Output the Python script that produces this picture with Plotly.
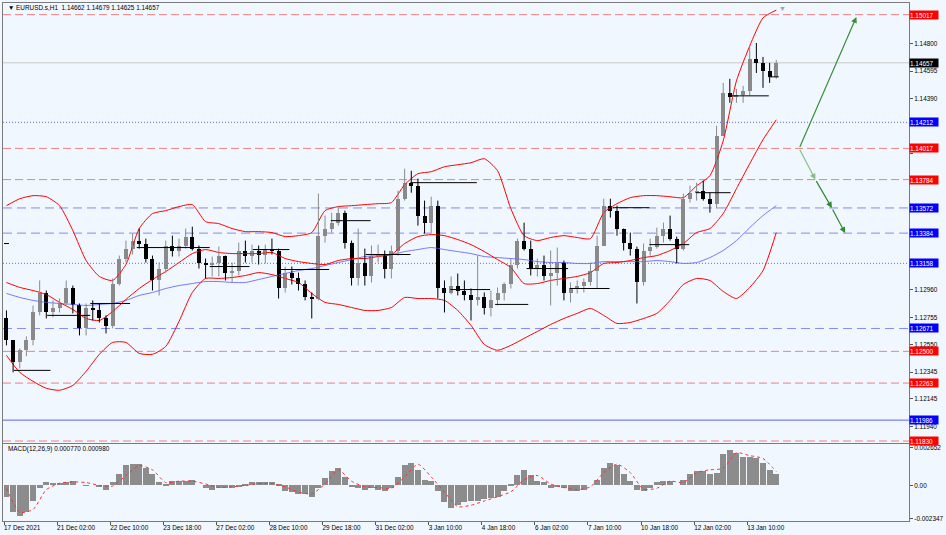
import plotly.graph_objects as go

# ---------------- data (hourly bars aggregated to 4-bar candles) ----------------
first_open = 1.12746
candle_high = [
    1.12806, 1.12582, 1.12522, 1.12612, 1.12843, 1.13030, 1.12955, 1.12881, 1.12895, 1.13030,
    1.12992, 1.12858, 1.12858, 1.12881, 1.12858, 1.12769, 1.13045, 1.13216, 1.13328, 1.13380,
    1.13418, 1.13343, 1.13216, 1.13164, 1.13328, 1.13365, 1.13343, 1.13418, 1.13432, 1.13291,
    1.13194, 1.13209, 1.13283, 1.13216, 1.13164, 1.13313, 1.13328, 1.13298, 1.13291, 1.13298,
    1.13343, 1.13268, 1.13134, 1.13134, 1.13089, 1.13030, 1.12940, 1.13679, 1.13515, 1.13537,
    1.13589, 1.13552, 1.13328, 1.13418, 1.13268, 1.13291, 1.13298, 1.13254, 1.13291, 1.13701,
    1.13865, 1.13850, 1.13791, 1.13627, 1.13656, 1.13627, 1.13030, 1.13060, 1.13082, 1.13030,
    1.12970, 1.13216, 1.12940, 1.12955, 1.12977, 1.13015, 1.13194, 1.13343, 1.13462, 1.13328,
    1.13194, 1.13216, 1.13254, 1.13276, 1.13179, 1.13015, 1.13030, 1.13045, 1.13164, 1.13365,
    1.13641, 1.13641, 1.13589, 1.13418, 1.13388, 1.13283, 1.13306, 1.13343, 1.13425, 1.13462,
    1.13515, 1.13358, 1.13679, 1.13738, 1.13761, 1.13776, 1.13686, 1.14186, 1.14507, 1.14537,
    1.14462, 1.14484, 1.14790, 1.14805, 1.14701, 1.14656, 1.14679]
candle_low = [
    1.12545, 1.12343, 1.12373, 1.12463, 1.12545, 1.12769, 1.12746, 1.12754, 1.12791, 1.12843,
    1.12784, 1.12619, 1.12619, 1.12731, 1.12716, 1.12634, 1.12672, 1.12992, 1.13164, 1.13224,
    1.13268, 1.13164, 1.12955, 1.12918, 1.13089, 1.13209, 1.13209, 1.13268, 1.13254, 1.13119,
    1.13045, 1.13060, 1.13060, 1.13030, 1.13015, 1.13067, 1.13164, 1.13164, 1.13149, 1.13157,
    1.13224, 1.12895, 1.12940, 1.13000, 1.12955, 1.12881, 1.12746, 1.12881, 1.13313, 1.13388,
    1.13440, 1.13268, 1.12992, 1.12992, 1.12992, 1.13015, 1.13164, 1.13045, 1.13045, 1.13216,
    1.13627, 1.13686, 1.13440, 1.13380, 1.13388, 1.12895, 1.12791, 1.12925, 1.12918, 1.12881,
    1.12731, 1.12843, 1.12776, 1.12761, 1.12843, 1.12881, 1.12970, 1.13119, 1.13254, 1.13067,
    1.13060, 1.13030, 1.12843, 1.12992, 1.12881, 1.12866, 1.12933, 1.12940, 1.12992, 1.12970,
    1.13291, 1.13500, 1.13365, 1.13254, 1.13216, 1.12858, 1.12992, 1.13216, 1.13268, 1.13313,
    1.13328, 1.13157, 1.13254, 1.13612, 1.13627, 1.13627, 1.13537, 1.13567, 1.14111, 1.14358,
    1.14358, 1.14358, 1.14410, 1.14581, 1.14470, 1.14507, 1.14537]
candle_close = [
    1.12582, 1.12418, 1.12508, 1.12582, 1.12791, 1.12940, 1.12791, 1.12821, 1.12858, 1.12970,
    1.12843, 1.12672, 1.12821, 1.12806, 1.12746, 1.12687, 1.13007, 1.13194, 1.13268, 1.13328,
    1.13306, 1.13194, 1.13030, 1.13119, 1.13291, 1.13254, 1.13291, 1.13358, 1.13268, 1.13164,
    1.13142, 1.13164, 1.13216, 1.13089, 1.13104, 1.13254, 1.13216, 1.13254, 1.13224, 1.13268,
    1.13254, 1.12970, 1.13089, 1.13045, 1.13000, 1.12910, 1.12895, 1.13365, 1.13418, 1.13462,
    1.13537, 1.13313, 1.13045, 1.13164, 1.13067, 1.13216, 1.13224, 1.13119, 1.13254, 1.13641,
    1.13761, 1.13738, 1.13515, 1.13462, 1.13589, 1.12970, 1.12940, 1.12992, 1.12955, 1.12925,
    1.12881, 1.12910, 1.12821, 1.12881, 1.12933, 1.13000, 1.13149, 1.13328, 1.13268, 1.13119,
    1.13149, 1.13067, 1.13089, 1.13164, 1.12940, 1.12970, 1.12985, 1.13015, 1.13104, 1.13291,
    1.13589, 1.13552, 1.13418, 1.13313, 1.13268, 1.13015, 1.13254, 1.13283, 1.13365, 1.13418,
    1.13343, 1.13268, 1.13641, 1.13686, 1.13701, 1.13641, 1.13604, 1.14111, 1.14432, 1.14402,
    1.14417, 1.14447, 1.14686, 1.14656, 1.14596, 1.14552, 1.14657]

# Bollinger bands and moving average, sampled every 8 hourly bars
band_upper = [
    1.13589, 1.13641, 1.13664, 1.13656, 1.13589, 1.13403, 1.13179, 1.13060, 1.13030, 1.13149,
    1.13418, 1.13530, 1.13552, 1.13582, 1.13597, 1.13470, 1.13455, 1.13418, 1.13395, 1.13395,
    1.13388, 1.13358, 1.13365, 1.13388, 1.13552, 1.13582, 1.13589, 1.13597, 1.13604, 1.13612,
    1.13746, 1.13828, 1.13843, 1.13880, 1.13895, 1.13910, 1.13940, 1.13850, 1.13567, 1.13365,
    1.13328, 1.13351, 1.13365, 1.13351, 1.13343, 1.13537, 1.13604, 1.13649, 1.13664, 1.13664,
    1.13656, 1.13649, 1.13738, 1.13813, 1.14074, 1.14522, 1.14783, 1.14992, 1.15051]
band_middle = [
    1.13015, 1.12978, 1.12955, 1.12925, 1.12866, 1.12813, 1.12746, 1.12731, 1.12798, 1.12888,
    1.12970, 1.13037, 1.13097, 1.13164, 1.13231, 1.13261, 1.13239, 1.13231, 1.13231, 1.13231,
    1.13239, 1.13194, 1.13171, 1.13157, 1.13149, 1.13179, 1.13194, 1.13194, 1.13209, 1.13224,
    1.13306, 1.13358, 1.13373, 1.13365, 1.13336, 1.13298, 1.13246, 1.13186, 1.13127, 1.13007,
    1.13007, 1.13030, 1.13045, 1.13060, 1.13089, 1.13157, 1.13164, 1.13179, 1.13201, 1.13216,
    1.13254, 1.13306, 1.13388, 1.13418, 1.13530, 1.13716, 1.13903, 1.14082, 1.14231]
band_lower = [
    1.12470, 1.12343, 1.12276, 1.12224, 1.12209, 1.12246, 1.12351, 1.12478, 1.12567, 1.12567,
    1.12485, 1.12478, 1.12537, 1.12724, 1.12940, 1.13045, 1.13045, 1.13052, 1.13067, 1.13089,
    1.13074, 1.13045, 1.13015, 1.12933, 1.12866, 1.12851, 1.12828, 1.12806, 1.12806, 1.12828,
    1.12903, 1.12895, 1.12895, 1.12881, 1.12806, 1.12694, 1.12552, 1.12508, 1.12545, 1.12597,
    1.12649, 1.12701, 1.12746, 1.12784, 1.12821, 1.12769, 1.12709, 1.12716, 1.12746, 1.12784,
    1.12881, 1.13000, 1.13045, 1.13030, 1.12948, 1.12895, 1.12978, 1.13104, 1.13388]
ma_blue = [
    1.12933, 1.12903, 1.12881, 1.12866, 1.12858, 1.12851, 1.12843, 1.12851, 1.12858, 1.12881,
    1.12918, 1.12940, 1.12970, 1.12992, 1.13007, 1.13022, 1.13022, 1.13015, 1.13015, 1.13037,
    1.13060, 1.13082, 1.13104, 1.13119, 1.13142, 1.13164, 1.13186, 1.13209, 1.13216, 1.13224,
    1.13246, 1.13261, 1.13276, 1.13261, 1.13246, 1.13231, 1.13209, 1.13201, 1.13194, 1.13186,
    1.13171, 1.13164, 1.13164, 1.13157, 1.13157, 1.13171, 1.13171, 1.13171, 1.13171, 1.13179,
    1.13171, 1.13157, 1.13164, 1.13201, 1.13254, 1.13328, 1.13425, 1.13515, 1.13589]

# MACD(12,26,9)
macd_hist = [
    -0.0008, -0.0019, -0.0022, -0.0019, -0.0011, -0.0002, 0.0002, 0.00015, 0.00015, 0.0002,
    0.00033, 0.0, -0.00005, 0.0, -0.0001, -0.0003, 0.0002, 0.0008, 0.0014, 0.00153,
    0.0015, 0.0012, 0.0008, 0.0002, 0.0001, 0.00033, 0.0003, 0.0003, 0.0004, 0.0,
    -0.0002, -0.0003, -0.0002, -0.0002, -0.0002, -0.0001, 0.0001, 0.0002, 0.0002, 0.0002,
    0.0002, 0.0001, -0.0004, -0.0005, -0.0006, -0.0006, -0.0008, -0.0002, 0.0005, 0.001,
    0.0012, 0.0006, -0.0001, -0.0002, -0.0003, -0.0002, -0.0003, -0.0004, -0.0002, 0.0006,
    0.0014, 0.0016, 0.0011, 0.0004, 0.0003, -0.0004, -0.0012, -0.0016, -0.0014, -0.0012,
    -0.0011, -0.0011, -0.001, -0.0009, -0.0008, -0.0004, 0.0001, 0.0007, 0.0011, 0.0007,
    0.0003, 0.0002, -0.0002, -0.0001, -0.0002, -0.0004, -0.0004, -0.0003, 0.0, 0.0004,
    0.0012, 0.0016, 0.0014, 0.0008, 0.0003, -0.0003, -0.0004, -0.0002, 0.0002, 0.0003,
    0.0003, 0.0, 0.0004, 0.0008, 0.001, 0.001, 0.0008, 0.0009, 0.0022, 0.0025,
    0.0023, 0.002, 0.002, 0.0019, 0.0016, 0.0011, 0.00077]
macd_signal = [
    -0.0002, -0.0019, -0.0017, -0.0003, 0.00015, 0.00025, 0.0002, 0.0, -0.00005, 0.0007,
    0.0014, 0.0011, 0.0002, 0.0003, 0.0003, 0.0001, -0.00015, -0.0001, 0.0, 0.00013,
    0.00013, -0.0001, -0.00047, -0.0006, 0.0001, 0.0011, 0.0003, -0.0001, -0.00015, -0.0002,
    0.0006, 0.0015, 0.0006, -0.00047, -0.0015, -0.0014, -0.0011, -0.0008, -0.00045, 0.0004,
    0.0007, 0.0001, -0.00015, -0.0003, -0.0001, 0.0009, 0.0015, 0.0009, -0.00027, -0.0002,
    0.0003, 0.0002, 0.0009, 0.0011, 0.0012, 0.0023, 0.0021, 0.0019, 0.00098]

# daily reference segments (hourly bar index start/end, price)
seg_start = [0, 6, 26, 52, 80, 124, 150, 166, 197, 218, 245, 269, 296, 315, 341, 367, 389, 417, 438, 461]
seg_end = [3, 28, 52, 76, 124, 148, 172, 196, 221, 245, 285, 293, 316, 340, 365, 389, 413, 438, 461, 467]
seg_price = [1.13306, 1.12358, 1.12769, 1.12858, 1.13276, 1.13134, 1.13261, 1.13112, 1.13477, 1.13224,
             1.13761, 1.12962, 1.12851, 1.13119, 1.12970, 1.13574, 1.13298, 1.13686, 1.14410, 1.14552]

# horizontal levels
level_prices = [1.15017, 1.14657, 1.14212, 1.14017, 1.13784, 1.13572, 1.13384, 1.13158,
                1.12671, 1.12500, 1.12263, 1.11986, 1.11830]
level_types = ["R", "P", "D", "R", "R", "B", "B", "D", "B", "R", "R", "S", "R"]

# drawn arrows (bar index, price)
arrow_up_bar = [479.3, 513.8]
arrow_up_price = [1.14017, 1.15000]
arrow_down_bar = [479.3, 489.1, 499.0, 507.0]
arrow_down_price = [1.14017, 1.13784, 1.13572, 1.13384]

y_ticks = [1.14800, 1.14595, 1.14390, 1.14185, 1.13980, 1.13775, 1.13570, 1.13365,
           1.13160, 1.12960, 1.12755, 1.12550, 1.12345, 1.12145, 1.11940]
y_ticks_covered = [1.14185, 1.13980, 1.13775, 1.13570, 1.13365, 1.13160]
x_tick_labels = ["17 Dec 2021", "21 Dec 02:00", "22 Dec 10:00", "23 Dec 18:00", "27 Dec 02:00",
                 "28 Dec 10:00", "29 Dec 18:00", "31 Dec 02:00", "3 Jan 10:00", "4 Jan 18:00",
                 "6 Jan 02:00", "7 Jan 10:00", "10 Jan 18:00", "12 Jan 02:00", "13 Jan 10:00"]
x_tick_bars = [32 * i for i in range(len(x_tick_labels))]
macd_ticks = [0.002652, 0.0, -0.002347]
macd_tick_text = ["0.002652", "0.00", "-0.002347"]
header = "EURUSD.s,H1\u00a0\u00a01.14662 1.14679 1.14625 1.14657"
macd_header = "MACD(12,26,9) 0.000770 0.000980"

# ---------------- styles ----------------
BG = "#F0F7FE"
FONT = "Liberation Sans"
FS = 6.4
AXIS_LINE = "#7A7A7A"
level_style = {
    "R": dict(color="rgba(240,90,90,0.75)", dash="8px,4px", width=1, label="#FF0000"),
    "B": dict(color="rgba(90,90,245,0.7)", dash="9px,5px", width=1, label="#0000FF"),
    "D": dict(color="rgba(70,70,230,0.8)", dash="1px,2px", width=1, label="#0000FF"),
    "S": dict(color="rgba(60,60,240,0.8)", dash="solid", width=1, label="#0000FF"),
    "P": dict(color="#C8C8C8", dash="solid", width=1, label="#000000"),
}

n = len(candle_close)
cx = [4 * k + 1.5 for k in range(n)]
opens = [first_open] + candle_close[:-1]
band_x = [8 * j + 1.5 for j in range(len(band_upper))]

fig = go.Figure()

shapes = []
for p, t in zip(level_prices, level_types):
    st = level_style[t]
    shapes.append(dict(type="line", xref="paper", x0=0, x1=1, yref="y", y0=p, y1=p,
                       line=dict(color=st["color"], width=st["width"], dash=st["dash"]),
                       layer="below"))

# Bollinger + MA
fig.add_trace(go.Scatter(x=band_x, y=ma_blue, mode="lines",
                         line=dict(color="#6A6AFF", width=0.9, shape="spline", smoothing=0.6),
                         hoverinfo="skip"))
for band in (band_upper, band_middle, band_lower):
    fig.add_trace(go.Scatter(x=band_x, y=band, mode="lines",
                             line=dict(color="#FF0000", width=1, shape="spline", smoothing=0.6),
                             hoverinfo="skip"))

# candle wicks
for is_up, color in ((True, "#8A8A8A"), (False, "#000000")):
    wx, wy = [], []
    for x, o, h, l, c in zip(cx, opens, candle_high, candle_low, candle_close):
        if (c >= o) == is_up:
            wx += [x, x, None]
            wy += [l, h, None]
    fig.add_trace(go.Scatter(x=wx, y=wy, mode="lines", line=dict(color=color, width=1),
                             hoverinfo="skip"))

# candle bodies
body_base = [min(o, c) for o, c in zip(opens, candle_close)]
body_h = [max(abs(c - o), 0.00003) for o, c in zip(opens, candle_close)]
body_col = ["#8A8A8A" if c >= o else "#000000" for o, c in zip(opens, candle_close)]
fig.add_trace(go.Bar(x=cx, y=body_h, base=body_base, width=2.4,
                     marker=dict(color=body_col, line=dict(width=0)), hoverinfo="skip"))

# daily reference segments
sx, sy = [], []
for a, b, p in zip(seg_start, seg_end, seg_price):
    sx += [a, b, None]
    sy += [p, p, None]
fig.add_trace(go.Scatter(x=sx, y=sy, mode="lines", line=dict(color="#000000", width=1),
                         hoverinfo="skip"))

# MACD
fig.add_trace(go.Bar(x=cx, y=macd_hist, width=3.6, xaxis="x2", yaxis="y2",
                     marker=dict(color="#8C8C8C", line=dict(width=0)), hoverinfo="skip"))
fig.add_trace(go.Scatter(x=band_x, y=macd_signal, mode="lines", xaxis="x2", yaxis="y2",
                         line=dict(color="#FF3030", width=1, dash="dot", shape="spline", smoothing=0.6),
                         hoverinfo="skip"))

annotations = []
for p, t in zip(level_prices, level_types):
    annotations.append(dict(xref="paper", x=1.0, xanchor="left", yref="y", y=p, yanchor="middle",
                            text=f"{p:.5f}", showarrow=False, bgcolor=level_style[t]["label"],
                            font=dict(family=FONT, size=FS, color="white"),
                            width=28, height=8, align="left", borderpad=0))
annotations.append(dict(xref="x", yref="y", axref="x", ayref="y",
                        x=arrow_up_bar[1], y=arrow_up_price[1],
                        ax=arrow_up_bar[0], ay=arrow_up_price[0], text="",
                        showarrow=True, arrowhead=2, arrowsize=1, arrowwidth=1.2,
                        arrowcolor="#3A8F3A"))
for i in range(len(arrow_down_bar) - 1):
    annotations.append(dict(xref="x", yref="y", axref="x", ayref="y",
                            x=arrow_down_bar[i + 1], y=arrow_down_price[i + 1],
                            ax=arrow_down_bar[i], ay=arrow_down_price[i], text="",
                            showarrow=True, arrowhead=2, arrowsize=1, arrowwidth=1.2,
                            arrowcolor="#86C086" if i == 0 else "#2F8A2F"))
annotations.append(dict(xref="paper", yref="paper", x=0.003, y=0.9915, xanchor="left",
                        yanchor="middle", text="\u25BC " + header, showarrow=False,
                        font=dict(family=FONT, size=FS, color="#000000")))
annotations.append(dict(xref="paper", yref="paper", x=0.003, y=0.139, xanchor="left",
                        yanchor="middle", text=macd_header, showarrow=False,
                        font=dict(family=FONT, size=FS, color="#000000")))
annotations.append(dict(xref="x", yref="paper", x=469, y=1.0, xanchor="center", yanchor="top",
                        text="\u25BC", showarrow=False,
                        font=dict(family=FONT, size=7, color="#A0A0A0")))

fig.update_layout(
    width=946, height=535,
    margin=dict(l=2, r=31, t=2, b=14),
    paper_bgcolor=BG, plot_bgcolor=BG,
    showlegend=False, barmode="overlay", bargap=0,
    shapes=shapes, annotations=annotations,
    font=dict(family=FONT, size=FS, color="#000000"),
    xaxis=dict(domain=[0, 1], anchor="y", range=[-0.6, 545.5], showticklabels=False,
               showgrid=False, zeroline=False, showline=True, mirror=True,
               linecolor=AXIS_LINE, linewidth=1, ticks=""),
    yaxis=dict(domain=[0.1503, 1], anchor="x", side="right", range=[1.11814, 1.15104],
               tickvals=y_ticks,
               ticktext=["" if v in y_ticks_covered else f"{v:.5f}" for v in y_ticks],
               ticks="outside", ticklen=3, tickcolor="#555555",
               showgrid=False, zeroline=False, showline=True, mirror=True,
               linecolor=AXIS_LINE, linewidth=1,
               tickfont=dict(family=FONT, size=FS, color="#000000")),
    xaxis2=dict(domain=[0, 1], anchor="y2", matches="x", range=[-0.6, 545.5],
                tickvals=x_tick_bars, ticktext=x_tick_labels,
                ticks="outside", ticklen=3, tickcolor="#555555",
                ticklabelposition="outside right", ticklabelshift=-1,
                showgrid=False, zeroline=False, showline=True, mirror=True,
                linecolor=AXIS_LINE, linewidth=1,
                tickfont=dict(family=FONT, size=FS, color="#000000")),
    yaxis2=dict(domain=[0, 0.1484], anchor="x2", side="right", range=[-0.00251, 0.00291],
                tickvals=macd_ticks, ticktext=macd_tick_text,
                ticks="outside", ticklen=3, tickcolor="#555555",
                showgrid=False, zeroline=False, showline=True, mirror=True,
                linecolor=AXIS_LINE, linewidth=1,
                tickfont=dict(family=FONT, size=FS, color="#000000")),
)

fig.write_html("out.html", config={"displayModeBar": False},
               post_script="document.body.style.margin='0px';document.body.style.padding='0px';"
                           "document.body.style.overflow='hidden';")
